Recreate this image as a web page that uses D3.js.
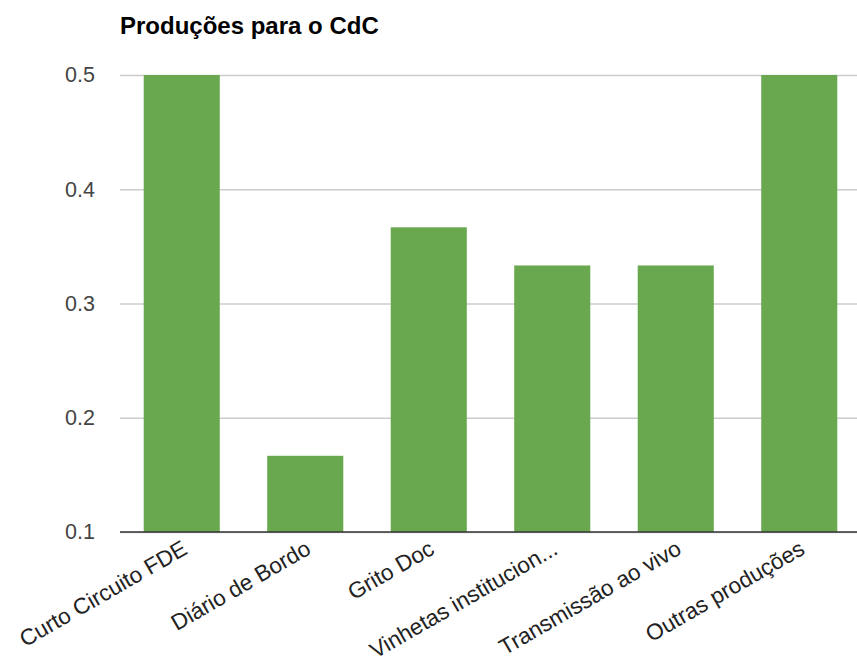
<!DOCTYPE html>
<html><head><meta charset="utf-8">
<script src="https://cdn.jsdelivr.net/npm/d3@7"></script>
<style>body{margin:0;background:#fff}svg{display:block;font-family:Arial,"Liberation Sans",sans-serif}</style>
</head><body><svg id="c" width="857" height="666"></svg>
<script>
const title = "Produções para o CdC";
const categories = ["Curto Circuito FDE","Diário de Bordo","Grito Doc","Vinhetas institucion...","Transmissão ao vivo","Outras produções"];
const values = [0.5, 0.1667, 0.3667, 0.3333, 0.3333, 0.5];
const yTicks = [0.1, 0.2, 0.3, 0.4, 0.5];

const svg = d3.select("#c");
const mLeft = 120, mRight = 861, mTop = 75, mBottom = 532;
const x = d3.scaleBand().domain(categories).range([mLeft, mRight]).paddingInner(0.384).paddingOuter(0.192);
const y = d3.scaleLinear().domain([0.1, 0.5]).range([mBottom, mTop]);

svg.append("text").attr("x", 120).attr("y", 34).attr("font-size", 24).attr("font-weight", "bold").attr("fill", "#000").text(title);

const yAxis = d3.axisLeft(y).tickValues(yTicks).tickFormat(d3.format(".1f")).tickSize(-(mRight - mLeft)).tickPadding(25);
const gy = svg.append("g").attr("transform", `translate(${mLeft},0)`).call(yAxis);
gy.select(".domain").remove();
gy.selectAll(".tick line").attr("stroke", "#cccccc").attr("stroke-width", 1.5);
gy.selectAll(".tick text").attr("font-size", 21.5).attr("fill", "#444").attr("font-family", "Arial, 'Liberation Sans', sans-serif");

svg.append("g").selectAll("rect").data(values).join("rect")
  .attr("x", (d, i) => x(categories[i]))
  .attr("y", d => y(d))
  .attr("width", x.bandwidth())
  .attr("height", d => y(0.1) - y(d))
  .attr("fill", "#6aa84f");

svg.append("line").attr("x1", mLeft).attr("x2", mRight).attr("y1", mBottom).attr("y2", mBottom).attr("stroke", "#333").attr("stroke-width", 1.5);

const xAxis = d3.axisBottom(x).tickSize(0).tickPadding(0);
const gx = svg.append("g").attr("transform", `translate(0,${mBottom})`).call(xAxis);
gx.select(".domain").remove();
gx.selectAll(".tick text")
  .attr("font-size", 22.5).attr("fill", "#222").attr("font-family", "Arial, 'Liberation Sans', sans-serif")
  .attr("text-anchor", "end").attr("dy", null).attr("y", 0)
  .attr("transform", "translate(7,21) rotate(-30)");
</script></body></html>
